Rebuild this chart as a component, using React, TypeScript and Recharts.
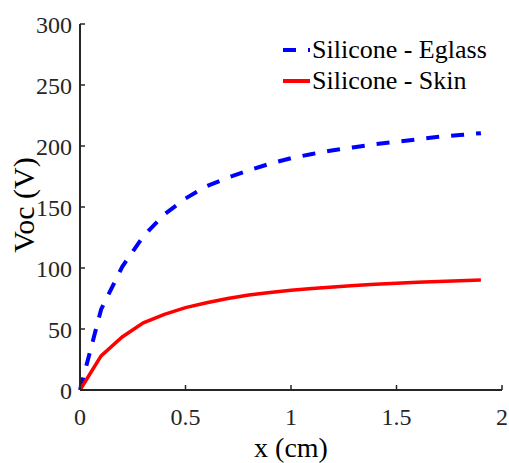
import React from 'react'
import { LineChart, Line, XAxis, YAxis, Legend } from 'recharts'

const FONT = "'Liberation Serif', 'Times New Roman', 'DejaVu Serif', serif"
const AXIS_COLOR = '#262626'

// x positions (cm)
const xValues = [0, 0.1, 0.2, 0.3, 0.4, 0.5, 0.6, 0.7, 0.8, 0.9, 1.0, 1.1, 1.2, 1.3, 1.4, 1.5, 1.6, 1.7, 1.8, 1.9]
// Voc (V)
const eglassVoc = [0, 66, 101, 126, 144, 157, 167, 174, 180, 185.5, 190, 193.5, 196.5, 199, 201.5, 203.5, 205.5, 207.5, 209, 210.5]
const skinVoc = [0, 28, 43.5, 55, 62, 67.5, 71.5, 75, 77.8, 80, 81.7, 83.2, 84.5, 85.6, 86.6, 87.5, 88.3, 89, 89.6, 90.2]

const xTicks = [0, 0.5, 1, 1.5, 2]
const yTicks = [0, 50, 100, 150, 200, 250, 300]

const SERIES = [
  { key: 'eglass', name: 'Silicone - Eglass', color: '#0000ff', dash: '13 12' },
  { key: 'skin', name: 'Silicone - Skin', color: '#ff0000', dash: undefined },
]

const data = xValues.map((x, i) => ({ x, eglass: eglassVoc[i], skin: skinVoc[i] }))

const renderLegend = () => (
  <div style={{ fontFamily: FONT, fontSize: 26, color: '#000' }}>
    {SERIES.map((s) => (
      <div key={s.key} style={{ display: 'flex', alignItems: 'center', height: 31 }}>
        <svg width={29} height={10} style={{ display: 'block' }}>
          <line x1={0} y1={5} x2={27} y2={5} stroke={s.color} strokeWidth={4} strokeDasharray={s.dash} />
        </svg>
        <span style={{ whiteSpace: 'nowrap' }}>{s.name}</span>
      </div>
    ))}
  </div>
)

const YLabel = (props: any) => {
  const vb = props.viewBox
  const cx = vb.x + 23
  const cy = 205
  return (
    <text
      x={cx}
      y={cy}
      transform={`rotate(-90 ${cx} ${cy})`}
      textAnchor="middle"
      dominantBaseline="central"
      style={{ fontFamily: FONT, fontSize: 30 }}
      fill="#000"
    >
      Voc (V)
    </text>
  )
}

const XLabel = (props: any) => {
  const vb = props.viewBox
  return (
    <text x={vb.x + vb.width / 2} y={457} textAnchor="middle" style={{ fontFamily: FONT, fontSize: 28 }} fill="#000">
      x (cm)
    </text>
  )
}

export default function App() {
  const tickStyle = { fontSize: 24, fill: '#262626' }
  return (
    <div style={{ position: 'absolute', left: 0, top: 0, background: '#fff', fontFamily: FONT }}>
      <LineChart
        width={509}
        height={463}
        data={data}
        margin={{ top: 24, right: 7, bottom: 0, left: 0 }}
        style={{ fontFamily: FONT }}
      >
        <XAxis
          dataKey="x"
          type="number"
          domain={[0, 2]}
          ticks={xTicks}
          height={73}
          tickSize={-5}
          tickMargin={23}
          tick={tickStyle}
          axisLine={{ stroke: AXIS_COLOR, strokeWidth: 2 }}
          tickLine={{ stroke: AXIS_COLOR, strokeWidth: 1.5 }}
          label={<XLabel />}
        />
        <XAxis
          xAxisId="top"
          orientation="top"
          dataKey="x"
          type="number"
          domain={[0, 2]}
          ticks={xTicks}
          height={0}
          tickSize={-5}
          tick={false}
          axisLine={{ stroke: AXIS_COLOR, strokeWidth: 2 }}
          tickLine={{ stroke: AXIS_COLOR, strokeWidth: 1.5 }}
        />
        <YAxis
          type="number"
          domain={[0, 300]}
          ticks={yTicks}
          width={80}
          tickSize={-5}
          tickMargin={13}
          tick={tickStyle}
          axisLine={{ stroke: AXIS_COLOR, strokeWidth: 2 }}
          tickLine={{ stroke: AXIS_COLOR, strokeWidth: 1.5 }}
          label={<YLabel />}
        />
        <YAxis
          yAxisId="right"
          orientation="right"
          type="number"
          domain={[0, 300]}
          ticks={yTicks}
          width={0}
          tickSize={-5}
          tick={false}
          axisLine={{ stroke: AXIS_COLOR, strokeWidth: 2 }}
          tickLine={{ stroke: AXIS_COLOR, strokeWidth: 1.5 }}
        />
        <Legend
          layout="horizontal"
          align="center"
          verticalAlign="middle"
          content={renderLegend}
          wrapperStyle={{ top: 34, left: 283, width: 'auto' }}
        />
        {SERIES.map((s) => (
          <Line
            key={s.key}
            dataKey={s.key}
            name={s.name}
            type="linear"
            stroke={s.color}
            strokeWidth={s.dash ? 4 : 3.5}
            strokeDasharray={s.dash}
            dot={false}
            activeDot={false}
            isAnimationActive={false}
          />
        ))}
      </LineChart>
    </div>
  )
}
